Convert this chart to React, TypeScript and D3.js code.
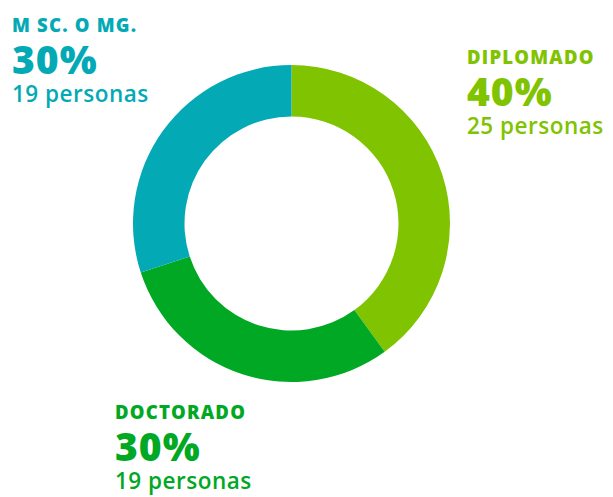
import React from "react";
import * as d3 from "d3";

const categories = ["DIPLOMADO", "DOCTORADO", "M SC. O MG."];
const percents = [40, 30, 30];
const persons = [25, 19, 19];
const colors = ["#80C300", "#00A823", "#03AAB5"];

const W = 613;
const H = 497;

export default function App() {
  const cx = 291.5;
  const cy = 223.5;
  const outerR = 158.5;
  const innerR = 107;
  const pie = d3.pie<number>().sort(null).value((d) => d);
  const arcs = pie(percents);
  const arc = d3.arc<d3.PieArcDatum<number>>().innerRadius(innerR).outerRadius(outerR);

  const labelPos = [
    { x: 467, y: 64 },
    { x: 115, y: 419 },
    { x: 12, y: 32 },
  ];

  return (
    <svg
      width={W}
      height={H}
      style={{ position: "absolute", left: 0, top: 0, background: "#fff" }}
      fontFamily="'Open Sans', Lato, sans-serif"
    >
      <g transform={`translate(${cx},${cy})`}>
        {arcs.map((a, i) => (
          <path key={i} d={arc(a) || ""} fill={colors[i]} />
        ))}
      </g>
      {categories.map((c, i) => (
        <g key={c} fill={colors[i]} transform={`translate(${labelPos[i].x},${labelPos[i].y})`}>
          <text fontSize={18.5} fontWeight={800} letterSpacing={1.2}>{c}</text>
          <text y={42} fontSize={39} fontWeight={800} letterSpacing={1}>{`${percents[i]}%`}</text>
          <text y={70} fontSize={22.5} fontWeight={600} letterSpacing={0.5}>{`${persons[i]} personas`}</text>
        </g>
      ))}
    </svg>
  );
}
